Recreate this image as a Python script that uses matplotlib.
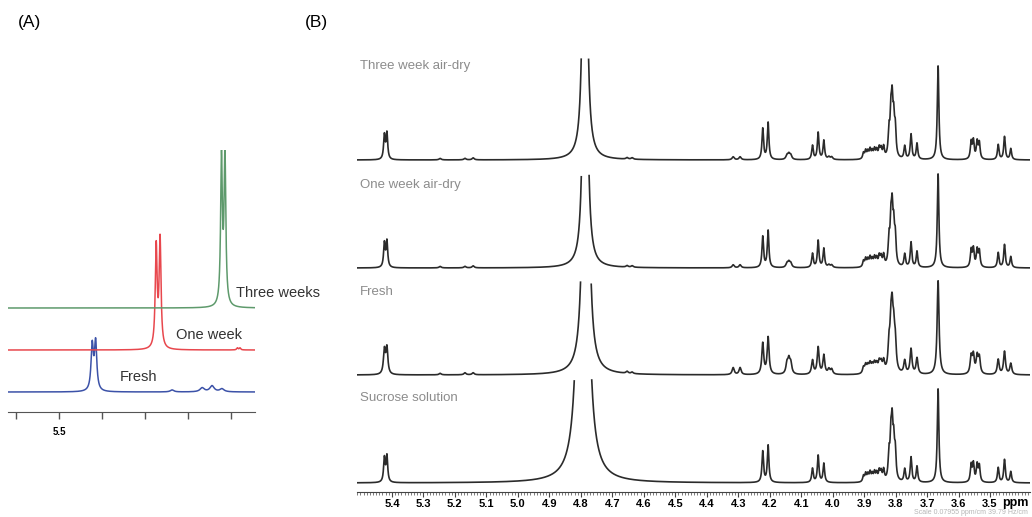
import matplotlib
matplotlib.use('Agg')
import matplotlib.pyplot as plt
import numpy as np

plt.rcParams['font.family'] = ['Liberation Sans', 'DejaVu Sans']

# ---- panel A: anomeric H1 doublet, shifted with drying time ----
a_names = ['Fresh', 'One week', 'Three weeks']
a_colors = ['#3c52a8', '#e8474d', '#5e9a6c']
a_ppm = [[5.423, 5.415, 5.237, 5.167, 5.144, 5.121],
         [5.274, 5.265, 5.085, 5.079],
         [5.122, 5.114]]
a_height = [[45, 48, 2, 4, 6, 3],
            [101, 108, 2, 2],
            [146, 151]]
a_width = [[0.0032, 0.0032, 0.005, 0.006, 0.006, 0.006],
           [0.0026, 0.0026, 0.002, 0.002],
           [0.0024, 0.0024]]

# ---- panel B: sucrose 1H spectra ----
b_names = ['Three week air-dry', 'One week air-dry', 'Fresh', 'Sucrose solution']
suc_ppm = [5.424, 5.416, 4.222, 4.205, 4.064, 4.046, 4.028,
           3.902, 3.895, 3.888, 3.881, 3.874, 3.867, 3.860, 3.852, 3.846, 3.838,
           3.821, 3.815, 3.811, 3.806, 3.801,
           3.771, 3.751, 3.732, 3.665,
           3.560, 3.553, 3.541, 3.534, 3.474, 3.454, 3.434]
suc_height = [24, 26, 31, 37, 14, 27, 19,
              6, 8, 7, 9, 7, 9, 8, 10, 9, 11,
              25, 37, 48, 33, 26,
              13, 25, 16, 94,
              17, 18, 17, 16, 15, 23, 11]
suc_width = [0.003, 0.003, 0.003, 0.003, 0.003, 0.003, 0.003,
             0.003, 0.003, 0.003, 0.003, 0.003, 0.003, 0.003, 0.003, 0.003, 0.003,
             0.003, 0.003, 0.003, 0.003, 0.003,
             0.003, 0.003, 0.003, 0.003,
             0.003, 0.003, 0.003, 0.003, 0.003, 0.003, 0.003]
extra_ppm = [5.247, 5.168, 5.142, 4.653, 4.637, 4.316, 4.294,
             4.145, 4.139, 4.133, 4.012, 4.003]
extra_height = {
    'Three week air-dry': [1.5, 1.5, 2, 1.5, 1.5, 3, 3, 4, 5, 4, 2.5, 2.5],
    'One week air-dry':   [1.5, 1.5, 2, 1.5, 1.5, 3, 3, 4, 5, 4, 2.5, 2.5],
    'Fresh':              [1.5, 2, 2, 2, 1.5, 7, 7, 10, 13, 10, 5, 5],
    'Sucrose solution':   [0, 0, 0, 0, 0, 0, 0, 0, 0, 0, 0, 0],
}
water_ppm = [4.787, 4.786, 4.784, 4.793]
water_height = [560, 560, 720, 1200]
water_width = [0.0055, 0.0055, 0.0065, 0.0085]
b_broaden = [1.0, 1.0, 1.2, 1.0]


def lorentz(x, pos, hgt, wid):
    y = np.zeros_like(x)
    for p, h, w in zip(pos, hgt, wid):
        y += h * w ** 2 / (w ** 2 + (x - p) ** 2)
    return y


fig = plt.figure(figsize=(10.32, 5.17), dpi=100)

# panel A
axA = fig.add_axes([8 / 1032, 105 / 517, 247 / 1032, 262 / 517])
xa = np.linspace(5.62, 5.04, 4000)
a_base = [20, 62, 104]
a_label_x = [5.36, 5.228, 5.088]
for i in range(3):
    y = lorentz(xa, a_ppm[i], a_height[i], a_width[i])
    axA.plot(xa, y + a_base[i], color=a_colors[i], lw=1.1)
    axA.text(a_label_x[i], a_base[i] + 15, a_names[i], fontsize=10.5,
             color='#333333', ha='left', va='center')
axA.set_xlim(5.619, 5.044)
axA.set_ylim(0, 262)
for s in ['top', 'left', 'right']:
    axA.spines[s].set_visible(False)
axA.spines['bottom'].set_color('#555555')
axA.set_yticks([])
axA.set_xticks([5.6, 5.5, 5.4, 5.3, 5.2, 5.1])
axA.set_xticklabels(['', '5.5', '', '', '', ''], fontweight='bold', fontsize=7)
axA.tick_params(axis='x', direction='out', length=5, width=1.0, color='#555555', pad=6)

# panel B
axB = fig.add_axes([357 / 1032, 25 / 517, 673 / 1032, 435 / 517])
xb = np.linspace(5.52, 3.36, 8000)
b_base = [332, 224, 117, 9]
b_cap = [103, 93, 93, 103]
b_label_y = [426, 307, 200, 94]
for i, name in enumerate(b_names):
    y = lorentz(xb, suc_ppm, suc_height, [w * b_broaden[i] for w in suc_width])
    y += lorentz(xb, extra_ppm, extra_height[name], [0.004] * len(extra_ppm))
    y += lorentz(xb, [water_ppm[i]], [water_height[i]], [water_width[i]])
    y[(y > b_cap[i]) & (xb > 4.6) & (xb < 5.0)] = np.nan
    axB.plot(xb, y + b_base[i], color='#2b2b2b', lw=1.2)
    axB.text(5.502, b_label_y[i], name, fontsize=9.5, color='#8c8c8c',
             ha='left', va='center')
axB.set_xlim(5.511, 3.373)
axB.set_ylim(0, 435)
for s in ['top', 'left', 'right']:
    axB.spines[s].set_visible(False)
axB.spines['bottom'].set_color('#444444')
axB.set_yticks([])
maj = np.round(np.arange(5.4, 3.45, -0.1), 1)
axB.set_xticks(maj)
axB.set_xticklabels(['%.1f' % v for v in maj], fontweight='bold', fontsize=8)
axB.set_xticks(np.round(np.arange(5.51, 3.37, -0.01), 2), minor=True)
axB.tick_params(axis='x', which='major', direction='out', length=3.5, color='#444444', pad=1.5)
axB.tick_params(axis='x', which='minor', direction='out', length=2, width=0.6, color='#666666')
axB.text(3.462, -11, 'ppm', fontsize=9, fontweight='bold', ha='left', va='center')
fig.text(1028 / 1032, 5 / 517, 'Scale 0.07955 ppm/cm 39.79 Hz/cm', fontsize=5,
         color='#b5b5b5', ha='right', va='center')

fig.text(18 / 1032, 1 - 22 / 517, '(A)', fontsize=12.5, ha='left', va='center')
fig.text(305 / 1032, 1 - 22 / 517, '(B)', fontsize=12.5, ha='left', va='center')

fig.savefig('out.png', dpi=100)
